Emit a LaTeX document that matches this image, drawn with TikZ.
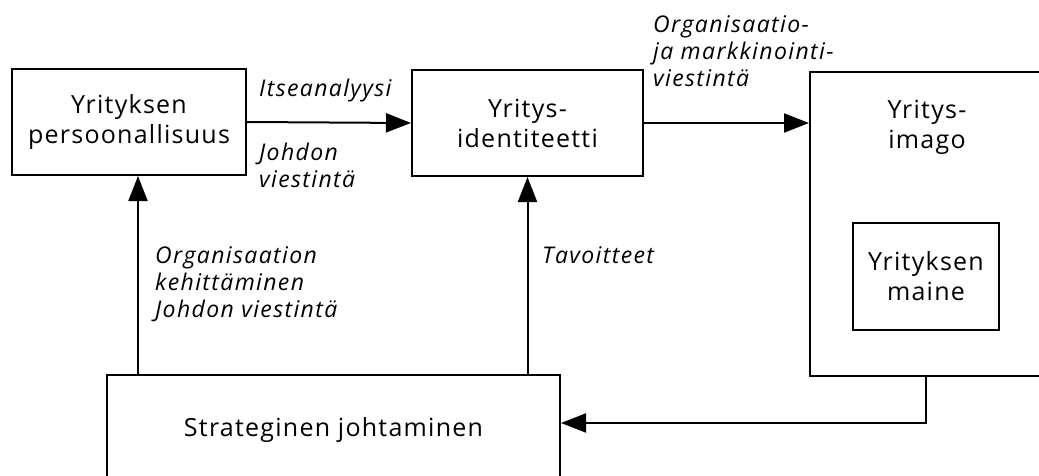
\documentclass[tikz,border=0pt]{standalone}
\usepackage{fontspec}
\setmainfont{Open Sans}
\usetikzlibrary{arrows.meta}
\tikzset{
  box/.style={draw, line width=2pt, rectangle, inner sep=0pt},
  boxtext/.style={align=center, font=\fontsize{25}{30}\selectfont\addfontfeatures{LetterSpace=5}},
  lbl/.style={align=left, inner sep=0pt, anchor=base west,
    font=\fontsize{23}{27}\selectfont\itshape\addfontfeatures{LetterSpace=6}},
  arr/.style={line width=2pt, -{Triangle[length=25pt, width=19pt]}}
}
\begin{document}
\begin{tikzpicture}[x=1pt, y=-1pt]
  \useasboundingbox (0,0) rectangle (1039,476);

  % boxes
  \node[box, boxtext, minimum width=234pt, minimum height=106pt] (pers) at (129,122)
    {Yrityksen\\persoonallisuus};
  \node[box, boxtext, minimum width=231pt, minimum height=106pt] (ident) at (527.5,123)
    {Yritys-\\identiteetti};
  \node[box, minimum width=270pt, minimum height=304pt] (imago) at (945,224) {};
  \node[boxtext] (imagotxt) at (927,127) {Yritys-\\imago};
  \node[box, boxtext, minimum width=146pt, minimum height=107pt] (maine) at (926,276.5)
    {Yrityksen\\maine};
  \node[box, minimum width=453pt, minimum height=145pt] (strat) at (333.5,447.5) {};
  \node[boxtext] (strattxt) at (333.5,430) {Strateginen johtaminen};

  % connector anchors
  \coordinate (xpers) at (138,0);
  \coordinate (yback) at (0,423);

  % connectors
  \draw[arr] (pers.east) -- (ident.west);
  \draw[arr] (ident.east) -- (imago.west |- ident.east);
  \draw[arr] (xpers |- strat.north) -- (xpers |- pers.south);
  \draw[arr] (ident.south |- strat.north) -- (ident.south);
  \draw[arr] (maine.south |- imago.south) |- (strat.east |- yback);

  % labels (base = baseline of the last line)
  \node[lbl] (l1) at (259,97) {Itseanalyysi};
  \node[lbl] (l2) at (259,187) {Johdon\\viestintä};
  \node[lbl] (l3) at (653,87) {Organisaatio-\\ja markkinointi-\\viestintä};
  \node[lbl] (l4) at (155,317) {Organisaation\\kehittäminen\\Johdon viestintä};
  \node[lbl] (l5) at (542,263) {Tavoitteet};
\end{tikzpicture}
\end{document}
